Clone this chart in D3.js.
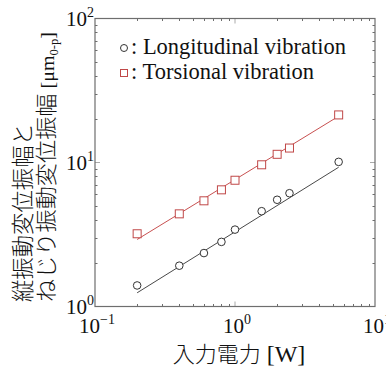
<!DOCTYPE html>
<html>
<head>
<meta charset="utf-8">
<script src="https://cdn.jsdelivr.net/npm/d3@7"></script>
<style>
  body { margin: 0; background: #fff; }
  svg { display: block; }
</style>
</head>
<body>
<div id="chart"></div>
<script>
(function () {
  const WIDTH = 386;
  const HEIGHT = 367;

  // 入力電力 [W]
  const power = [0.2, 0.4, 0.6, 0.8, 1.0, 1.55, 2.0, 2.45, 5.5];
  // 縦振動 (○)
  const longitudinal = [1.40, 1.92, 2.35, 2.81, 3.42, 4.59, 5.51, 6.12, 10.1];
  // ねじり振動 (□)
  const torsional = [3.2, 4.4, 5.42, 6.46, 7.53, 9.64, 11.4, 12.6, 21.4];
  // 近似直線の端点
  const fitX = [0.2, 5.5];
  const longFit = [1.245, 9.27];
  const torsFit = [2.92, 20.97];

  const xTicks = [0.1, 1, 10];
  const xTickExp = ["−1", "0", "1"];
  const yTicks = [1, 10, 100];
  const yTickExp = ["0", "1", "2"];

  const margin = { left: 95, right: 11, top: 18.5, bottom: 60.5 };
  const serif = "Liberation Serif, Times New Roman, serif";
  const cjk = "Noto Sans CJK JP, Noto Sans CJK SC, sans-serif";
  const frameColor = "#6e6e6e";

  const svg = d3.select("#chart").append("svg")
    .attr("width", WIDTH)
    .attr("height", HEIGHT);

  const x = d3.scaleLog().domain([0.1, 10])
    .range([margin.left, WIDTH - margin.right]);
  const y = d3.scaleLog().domain([1, 100])
    .range([HEIGHT - margin.bottom, margin.top]);

  const x0 = x.range()[0], x1 = x.range()[1];
  const y0 = y.range()[0], y1 = y.range()[1];

  // minor ticks (2..9 each decade)
  const minorX = [], minorY = [];
  [0.1, 1].forEach(d => { for (let k = 2; k <= 9; k++) minorX.push(d * k); });
  [1, 10].forEach(d => { for (let k = 2; k <= 9; k++) minorY.push(d * k); });

  const ticks = svg.append("g").attr("stroke", frameColor).attr("stroke-width", 1);

  minorX.forEach(v => {
    const px = Math.round(x(v)) + 0.5;
    ticks.append("line").attr("x1", px).attr("x2", px).attr("y1", y0).attr("y2", y0 - 2.5);
    ticks.append("line").attr("x1", px).attr("x2", px).attr("y1", y1).attr("y2", y1 + 2.5);
  });
  minorY.forEach(v => {
    const py = Math.round(y(v)) + 0.5;
    ticks.append("line").attr("x1", x0).attr("x2", x0 + 2.5).attr("y1", py).attr("y2", py);
    ticks.append("line").attr("x1", x1).attr("x2", x1 - 2.5).attr("y1", py).attr("y2", py);
  });
  // major ticks inside
  ticks.append("line").attr("x1", x(1)).attr("x2", x(1)).attr("y1", y0).attr("y2", y0 - 5).attr("stroke", "#aaa");
  ticks.append("line").attr("x1", x(1)).attr("x2", x(1)).attr("y1", y1).attr("y2", y1 + 5).attr("stroke", "#aaa");
  ticks.append("line").attr("x1", x0).attr("x2", x0 + 5).attr("y1", y(10)).attr("y2", y(10)).attr("stroke", "#aaa");
  ticks.append("line").attr("x1", x1).attr("x2", x1 - 5).attr("y1", y(10)).attr("y2", y(10)).attr("stroke", "#aaa");

  // frame
  svg.append("rect")
    .attr("x", x0).attr("y", y1)
    .attr("width", x1 - x0).attr("height", y0 - y1)
    .attr("fill", "none")
    .attr("stroke", frameColor)
    .attr("stroke-width", 1.2);

  // tick labels
  xTicks.forEach((v, i) => {
    const t = svg.append("text")
      .attr("x", x(v) + 2)
      .attr("y", 333)
      .attr("text-anchor", "middle")
      .attr("font-family", serif)
      .attr("font-size", 21)
      .attr("fill", "#111");
    t.append("tspan").text("10");
    t.append("tspan").attr("dy", -9).attr("font-size", 14).text(xTickExp[i]);
  });
  yTicks.forEach((v, i) => {
    const t = svg.append("text")
      .attr("x", 94)
      .attr("y", y(v) + 7)
      .attr("text-anchor", "end")
      .attr("font-family", serif)
      .attr("font-size", 21)
      .attr("fill", "#111");
    t.append("tspan").text("10");
    t.append("tspan").attr("dy", -9).attr("font-size", 14).text(yTickExp[i]);
  });

  // fit lines
  const line = d3.line().x(d => x(d[0])).y(d => y(d[1]));
  svg.append("path")
    .datum(fitX.map((v, i) => [v, torsFit[i]]))
    .attr("d", line)
    .attr("fill", "none")
    .attr("stroke", "#c85050")
    .attr("stroke-width", 1);
  svg.append("path")
    .datum(fitX.map((v, i) => [v, longFit[i]]))
    .attr("d", line)
    .attr("fill", "none")
    .attr("stroke", "#333")
    .attr("stroke-width", 0.9);

  // markers
  svg.append("g").selectAll("rect")
    .data(power.map((v, i) => [v, torsional[i]]))
    .join("rect")
    .attr("x", d => x(d[0]) - 4)
    .attr("y", d => y(d[1]) - 4)
    .attr("width", 8).attr("height", 8)
    .attr("fill", "#fff")
    .attr("stroke", "#c04848")
    .attr("stroke-width", 1);
  svg.append("g").selectAll("circle")
    .data(power.map((v, i) => [v, longitudinal[i]]))
    .join("circle")
    .attr("cx", d => x(d[0]))
    .attr("cy", d => y(d[1]))
    .attr("r", 3.8)
    .attr("fill", "#fff")
    .attr("stroke", "#333")
    .attr("stroke-width", 1);

  // legend
  const legend = [
    { label: ": Longitudinal vibration", shape: "circle", y: 54 },
    { label: ": Torsional vibration", shape: "square", y: 79 }
  ];
  legend.forEach(l => {
    if (l.shape === "circle") {
      svg.append("circle").attr("cx", 124).attr("cy", l.y - 6).attr("r", 3.5)
        .attr("fill", "none").attr("stroke", "#333");
    } else {
      svg.append("rect").attr("x", 120.5).attr("y", l.y - 9.5).attr("width", 7).attr("height", 7)
        .attr("fill", "none").attr("stroke", "#c04848");
    }
    svg.append("text")
      .attr("x", 131).attr("y", l.y)
      .attr("font-family", serif)
      .attr("font-size", 22.5)
      .attr("fill", "#111")
      .text(l.label);
  });

  // x-axis title
  const xt = svg.append("text")
    .attr("x", 239).attr("y", 362)
    .attr("text-anchor", "middle")
    .attr("font-size", 22)
    .attr("fill", "#111");
  xt.append("tspan").attr("font-family", cjk).attr("font-weight", 300).text("入力電力");
  xt.append("tspan").attr("font-family", serif).attr("font-size", 24).text(" [W]");

  // y-axis title (two lines)
  const yt = svg.append("g").attr("transform", "translate(0,302) rotate(-90)");
  yt.append("text")
    .attr("x", 0).attr("y", 31)
    .attr("font-family", cjk)
    .attr("font-weight", 300)
    .attr("font-size", 22.3)
    .attr("textLength", 179)
    .attr("lengthAdjust", "spacingAndGlyphs")
    .attr("fill", "#111")
    .text("縦振動変位振幅と");
  const yt2 = yt.append("text")
    .attr("x", 0).attr("y", 54)
    .attr("font-size", 22)
    .attr("textLength", 270)
    .attr("lengthAdjust", "spacingAndGlyphs")
    .attr("fill", "#111");
  yt2.append("tspan").attr("font-family", cjk).attr("font-weight", 300).text("ねじり振動変位振幅");
  yt2.append("tspan").attr("font-family", serif).attr("font-size", 19).text(" [μm");
  yt2.append("tspan").attr("font-family", serif).attr("font-size", 12).attr("dy", 4).text("0-p");
  yt2.append("tspan").attr("font-family", serif).attr("font-size", 19).attr("dy", -4).text("]");
})();
</script>
</body>
</html>
